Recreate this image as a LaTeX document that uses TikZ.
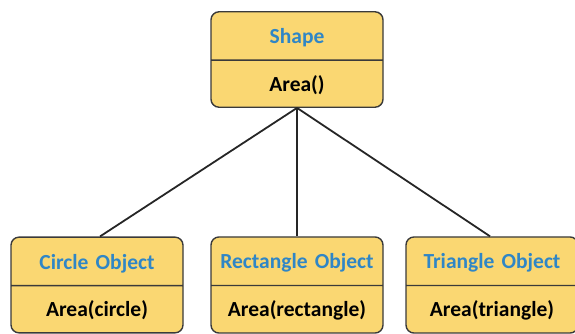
\documentclass[tikz,border=0pt]{standalone}
\usepackage{fontspec}
\setmainfont{Carlito}
\usetikzlibrary{shapes.multipart}
\definecolor{boxfill}{HTML}{FAD772}
\definecolor{boxdraw}{HTML}{3A3A3A}
\definecolor{titleblue}{HTML}{2F86C6}
\newcommand{\tstrut}{\rule[-2.5pt]{0pt}{21.5pt}}
\newcommand{\bstrut}{\rule[-3pt]{0pt}{21pt}}
\tikzset{
  classbox/.style={rectangle split, rectangle split parts=2, draw=boxdraw, line width=1.4pt,
    fill=boxfill, rounded corners=8pt, minimum width=172pt, text width=168pt, align=center,
    inner xsep=2pt, inner ysep=12.25pt, font=\bfseries\fontsize{21.5}{24}\selectfont},
  conn/.style={draw=black!85, line width=1.8pt}
}
\begin{document}
\begin{tikzpicture}[x=1pt,y=1pt]
\useasboundingbox (0,0) rectangle (575,333);
\node[classbox] (shape) at (297,273.5) {\textcolor{titleblue}{\tstrut Shape}\nodepart{second}\bstrut Area()};
\node[classbox] (circle) at (97,48) {\textcolor{titleblue}{\tstrut Circle Object}\nodepart{second}\bstrut Area(circle)};
\node[classbox] (rect) at (297,48) {\textcolor{titleblue}{\tstrut Rectangle Object}\nodepart{second}\bstrut Area(rectangle)};
\node[classbox] (tri) at (492,48) {\textcolor{titleblue}{\tstrut Triangle Object}\nodepart{second}\bstrut Area(triangle)};
\draw[conn] (shape.south) -- ([xshift=3pt]circle.north);
\draw[conn] (shape.south) -- (rect.north);
\draw[conn] (shape.south) -- ([xshift=-2pt]tri.north);
\end{tikzpicture}
\end{document}
